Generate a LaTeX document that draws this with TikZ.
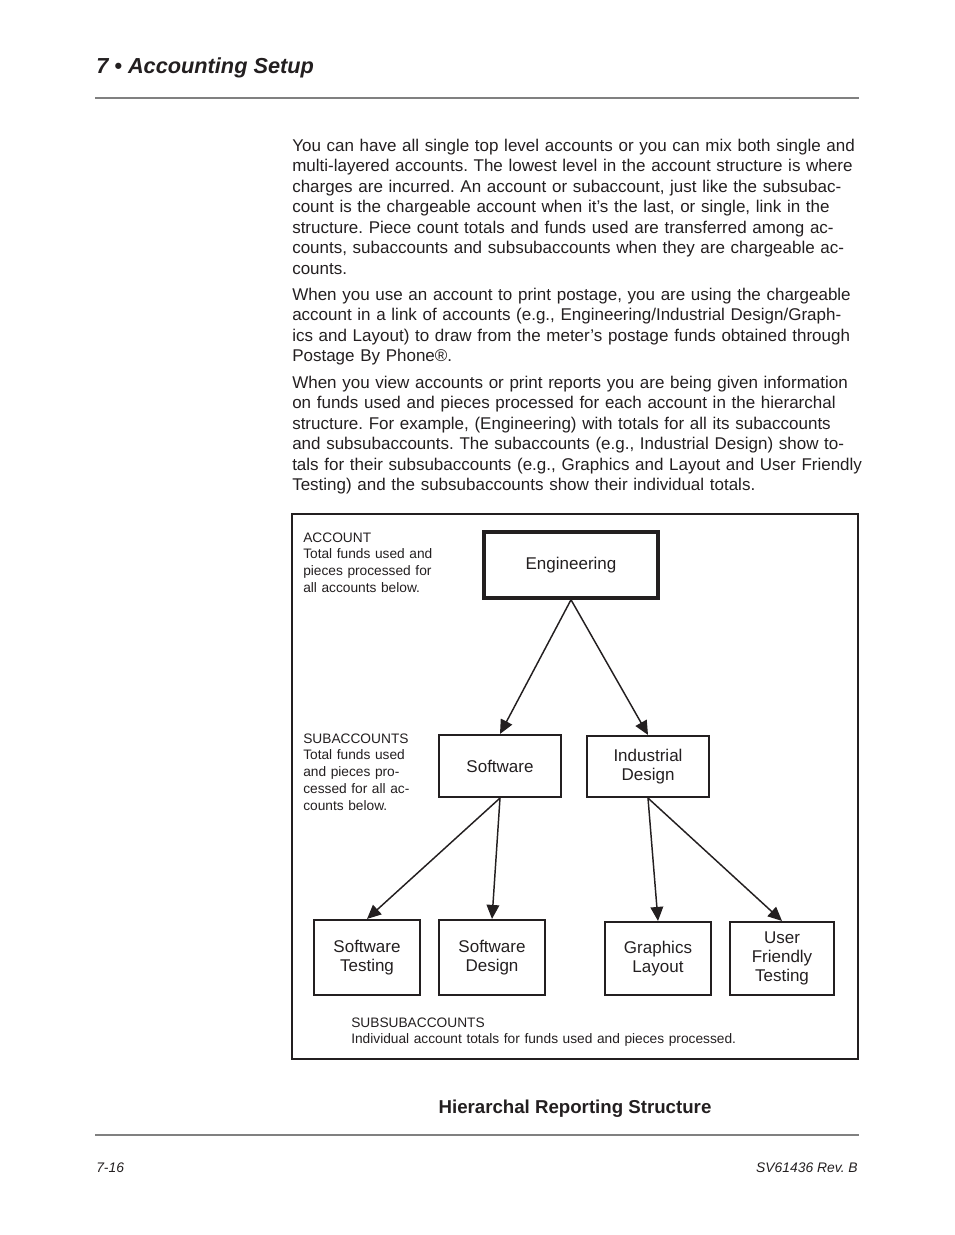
\documentclass[tikz,border=0pt]{standalone}
\usepackage{fontspec}
\setmainfont{Liberation Sans}
\usepackage{tikz}
\usetikzlibrary{arrows.meta}
\definecolor{ink}{RGB}{35,31,32}
\definecolor{rulegray}{RGB}{128,128,128}
\frenchspacing

\begin{document}
\begin{tikzpicture}[x=0.75pt,y=-0.75pt,
  every node/.style={text=ink},
  box/.style={draw=ink,line width=1.6pt,align=center,inner sep=0pt,
    font=\fontsize{12.75}{14.25}\selectfont},
  arr/.style={draw=ink,line width=1.1pt,-{Triangle[length=10.5pt,width=9.5pt]}},
  para/.style={anchor=base west,inner sep=0pt,text width=430pt,align=left,
    font=\fontsize{12.75}{15.4}\selectfont},
  note/.style={anchor=base west,inner sep=0pt,align=left,
    font=\fontsize{10.3}{12.6}\selectfont}]
      \useasboundingbox (0,0) rectangle (954,1235);
      %%% page head
      \node[anchor=base west,inner sep=0pt,font=\fontsize{16.3}{19}\selectfont\bfseries\itshape] (head) at (96,73) {7 • Accounting Setup};
      \draw[rulegray,line width=1.5pt] (95,98) -- (859,98);
      %%% body text
      \node[para] (p1) at (292,151) {You can have all single top level accounts or you can mix both single and\\
multi-layered accounts. The lowest level in the account structure is where\\
charges are incurred. An account or subaccount, just like the subsubac-\\
count is the chargeable account when it’s the last, or single, link in the\\
structure. Piece count totals and funds used are transferred among ac-\\
counts, subaccounts and subsubaccounts when they are chargeable ac-\\
counts.};
      \node[para] (p2) at (292,300) {When you use an account to print postage, you are using the chargeable\\
account in a link of accounts (e.g., Engineering/Industrial Design/Graph-\\
ics and Layout) to draw from the meter’s postage funds obtained through\\
Postage By Phone®.};
      \node[para] (p3) at (292,388) {When you view accounts or print reports you are being given information\\
on funds used and pieces processed for each account in the hierarchal\\
structure. For example, (Engineering) with totals for all its subaccounts\\
and subsubaccounts. The subaccounts (e.g., Industrial Design) show to-\\
tals for their subsubaccounts (e.g., Graphics and Layout and User Friendly\\
Testing) and the subsubaccounts show their individual totals.};
      %%% the figure frame
      \draw[ink,line width=1.3pt] (292,514) rectangle (858,1059);
      % level notes
      \node[note,text width=110pt] (nacct) at (303,542) {ACCOUNT\\Total funds used and\\pieces processed for\\all accounts below.};
      \node[note,text width=110pt] (nsub) at (303,743) {SUBACCOUNTS\\Total funds used\\and pieces pro-\\cessed for all ac-\\counts below.};
      \node[note,text width=320pt] (nsubsub) at (351,1027) {SUBSUBACCOUNTS\\Individual account totals for funds used and pieces processed.};
      %% the account boxes
      \node[box,line width=2.6pt,minimum width=130.5pt,minimum height=49.5pt] (eng) at (571,565) {Engineering};
      \node[box,minimum width=91.5pt,minimum height=46.5pt] (sw) at (500,766) {Software};
      \node[box,minimum width=91.5pt,minimum height=45.75pt] (ind) at (648,766.5) {Industrial\\Design};
      \node[box,minimum width=79.5pt,minimum height=56.25pt] (swtest) at (367,957.5) {Software\\Testing};
      \node[box,minimum width=79.5pt,minimum height=56.25pt] (swdes) at (492,957.5) {Software\\Design};
      \node[box,minimum width=79.5pt,minimum height=54.75pt] (gfx) at (658,958.5) {Graphics\\Layout};
      \node[box,minimum width=78pt,minimum height=54.75pt] (user) at (782,958.5) {User\\Friendly\\Testing};
      %% links
      \draw[arr] (eng.south) -- (sw.north);
      \draw[arr] (eng.south) -- (ind.north);
      \draw[arr] (sw.south) -- (swtest.north);
      \draw[arr] (sw.south) -- (swdes.north);
      \draw[arr] (ind.south) -- (gfx.north);
      \draw[arr] (ind.south) -- (user.north);
      %%% caption and page foot
      \node[anchor=base,inner sep=0pt,font=\fontsize{14}{16}\selectfont\bfseries] (cap) at (575,1113) {Hierarchal Reporting Structure};
      \draw[rulegray,line width=1.2pt] (95,1135) -- (859,1135);
      \node[anchor=base west,inner sep=0pt,font=\fontsize{10.4}{12}\selectfont\itshape] (pg) at (96,1172) {7-16};
      \node[anchor=base east,inner sep=0pt,font=\fontsize{10.4}{12}\selectfont\itshape] (rev) at (858,1172) {SV61436 Rev. B};
    \end{tikzpicture}
\end{document}
